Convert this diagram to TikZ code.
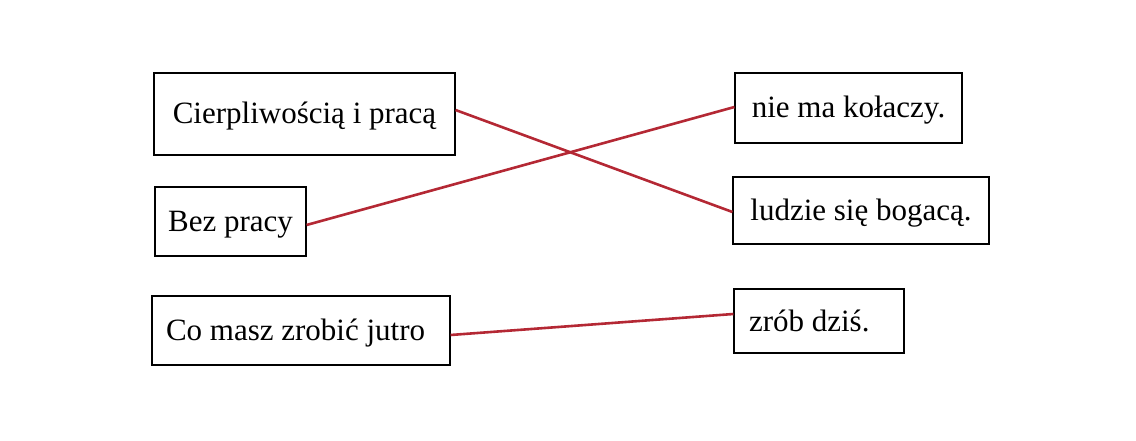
\documentclass[tikz,border=0pt]{standalone}
\usepackage{fontspec}
\setmainfont{Liberation Serif}
\usetikzlibrary{positioning}
\definecolor{linkred}{RGB}{180,40,52}

\begin{document}
\begin{tikzpicture}[
  x=1pt, y=-1pt,
  every node/.style={
    draw, rectangle, line width=1.1pt,
    inner xsep=0pt, inner ysep=0pt,
    text height=22pt, text depth=2pt,
    font=\fontsize{31}{37}\selectfont
  },
  leftpad/.style={align=flush left, inner xsep=15pt, text width=#1},
  link/.style={draw=linkred, line width=2.6pt}
]
\useasboundingbox (0,0) rectangle (1136,441);

\node (cierp) [minimum width=301pt, minimum height=82pt] at (304.5,114) {Cierpliwością i pracą};
\node (bez) [minimum width=151pt, minimum height=69pt] at (230.5,221.5) {Bez pracy};
\node (comasz) [leftpad=270pt, inner xsep=14pt, minimum height=69pt] at (301,330.5) {Co masz zrobić jutro};

\node (kolaczy) [minimum width=227pt, minimum height=70pt] at (848.5,108) {nie ma kołaczy.};
\node (bogaca) [minimum width=256pt, minimum height=67pt] at (861,210.5) {ludzie się bogacą.};
\node (dzis) [leftpad=140pt, minimum height=64pt] at (819,321) {zrób dziś.};

\draw[link] ([yshift=4pt]cierp.east) -- ([yshift=-1.5pt]bogaca.west);
\draw[link] ([yshift=-3.5pt]bez.east) -- ([yshift=1pt]kolaczy.west);
\draw[link] ([yshift=-4.5pt]comasz.east) -- ([yshift=7pt]dzis.west);

\end{tikzpicture}
\end{document}
